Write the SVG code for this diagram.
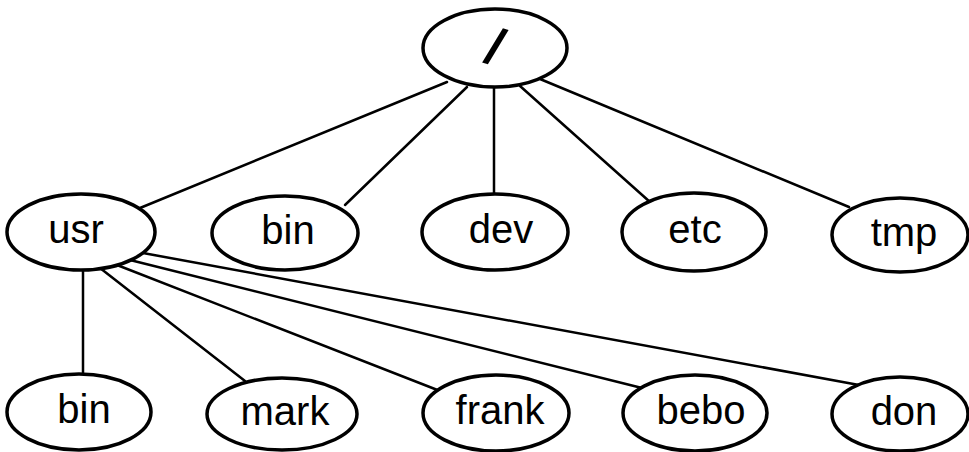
<svg xmlns="http://www.w3.org/2000/svg" width="969" height="452" viewBox="0 0 969 452">
<style>
.n ellipse{fill:#fff;stroke:#000;stroke-width:3.5}
.n text{font-family:"Liberation Sans",Arial,sans-serif;font-size:40px;text-anchor:middle;fill:#000}
#edges line{stroke:#000;stroke-width:2.5;stroke-linecap:round}
</style>
<rect width="969" height="452" fill="#fff"/>
<g id="edges">
<line x1="447" y1="82" x2="140" y2="208"/>
<line x1="467" y1="87" x2="345" y2="205"/>
<line x1="494" y1="88" x2="494" y2="195"/>
<line x1="520" y1="86" x2="650" y2="202"/>
<line x1="540" y1="79" x2="849" y2="207"/>
<line x1="83" y1="270" x2="83" y2="375"/>
<line x1="100" y1="268" x2="245" y2="381"/>
<line x1="117" y1="265" x2="440" y2="391"/>
<line x1="130" y1="260" x2="642" y2="388"/>
<line x1="143" y1="253" x2="859" y2="385"/>
</g>
<g id="root" class="n"><ellipse cx="495" cy="48" rx="72" ry="39"/><text x="495" y="64" style="font-size:50px;stroke:#000;stroke-width:2" transform="rotate(16 495 47)">/</text></g>
<g id="usr" class="n"><ellipse cx="81" cy="232" rx="74" ry="38"/><text x="76" y="243">usr</text></g>
<g id="bin1" class="n"><ellipse cx="285" cy="233" rx="73" ry="37"/><text x="288" y="244">bin</text></g>
<g id="dev" class="n"><ellipse cx="495" cy="232" rx="73" ry="38"/><text x="501" y="243">dev</text></g>
<g id="etc" class="n"><ellipse cx="694" cy="232" rx="72" ry="39"/><text x="695" y="243">etc</text></g>
<g id="tmp" class="n"><ellipse cx="900" cy="235" rx="68" ry="37"/><text x="904" y="246">tmp</text></g>
<g id="bin2" class="n"><ellipse cx="79" cy="412" rx="72" ry="38"/><text x="84" y="423">bin</text></g>
<g id="mark" class="n"><ellipse cx="282" cy="414" rx="75" ry="36"/><text x="285" y="425">mark</text></g>
<g id="frank" class="n"><ellipse cx="496" cy="413" rx="73" ry="38"/><text x="500" y="424">frank</text></g>
<g id="bebo" class="n"><ellipse cx="695" cy="413" rx="72" ry="38"/><text x="701" y="424">bebo</text></g>
<g id="don" class="n"><ellipse cx="900" cy="414" rx="68" ry="37"/><text x="904" y="425">don</text></g>
</svg>
